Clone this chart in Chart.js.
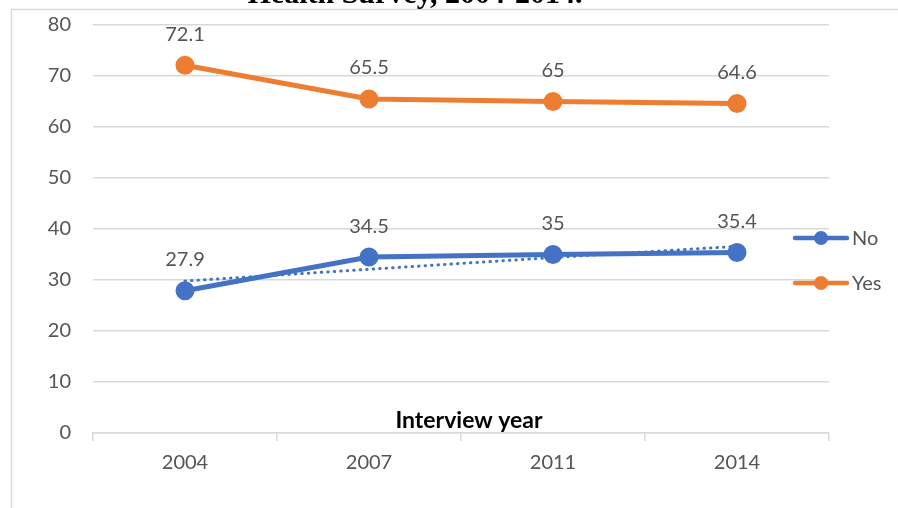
<!DOCTYPE html>
<html>
<head>
<meta charset="utf-8">
<script src="https://cdn.jsdelivr.net/npm/chart.js@4"></script>
<style>
  body { margin: 0; background: #fff; }
  #wrap { width: 898px; height: 508px; }
</style>
</head>
<body>
<div id="wrap"><canvas id="grafica" width="898" height="508"></canvas></div>
<script>
// datos
const years = ["2004", "2007", "2011", "2014"];
const noValues = [27.9, 34.5, 35, 35.4];
const yesValues = [72.1, 65.5, 65, 64.6];
const noTrend = [29.8, 32.1, 34.4, 36.6];
const yTicks = [0, 10, 20, 30, 40, 50, 60, 70, 80];

const AZUL = "#4472C4";
const NARANJA = "#ED7D31";
const TEXTO = "#555555";
const REJILLA = "#D9D9D9";
const FUENTE = "Lato, 'Open Sans', sans-serif";

// marco, titulo cortado, etiquetas y leyenda
const extras = {
  id: "extras",
  beforeDraw(chart) {
    const ctx = chart.ctx;
    ctx.save();
    ctx.strokeStyle = REJILLA;
    ctx.lineWidth = 1.5;
    ctx.beginPath();
    ctx.moveTo(11.5, 508);
    ctx.lineTo(11.5, 9.5);
    ctx.lineTo(898, 9.5);
    ctx.stroke();

    ctx.fillStyle = "#000";
    ctx.font = "bold 30px 'Liberation Serif', serif";
    ctx.textAlign = "center";
    ctx.textBaseline = "alphabetic";
    ctx.fillText("Health Survey, 2004-2014.", 415, 3);
    ctx.restore();
  },
  afterDatasetsDraw(chart) {
    const ctx = chart.ctx;
    const area = chart.chartArea;
    ctx.save();
    ctx.fillStyle = TEXTO;
    ctx.font = `20px ${FUENTE}`;
    ctx.textAlign = "center";
    ctx.textBaseline = "middle";
    [0, 1].forEach(i => {
      const meta = chart.getDatasetMeta(i);
      meta.data.forEach((p, j) => {
        ctx.fillText(String(chart.data.datasets[i].data[j]), p.x, p.y - 31);
      });
    });

    // titulo del eje dentro del area
    ctx.fillStyle = "#000";
    ctx.font = `bold 23px ${FUENTE}`;
    ctx.fillText("Interview year", 469, area.bottom - 12);

    // leyenda
    const items = [["No", AZUL, 238], ["Yes", NARANJA, 283]];
    items.forEach(([txt, color, y]) => {
      ctx.strokeStyle = color;
      ctx.lineWidth = 4.5;
      ctx.lineCap = "round";
      ctx.beginPath();
      ctx.moveTo(795, y);
      ctx.lineTo(847, y);
      ctx.stroke();
      ctx.fillStyle = color;
      ctx.beginPath();
      ctx.arc(821, y, 7, 0, Math.PI * 2);
      ctx.fill();
      ctx.fillStyle = TEXTO;
      ctx.font = `20px ${FUENTE}`;
      ctx.textAlign = "left";
      ctx.fillText(txt, 852, y + 1);
    });
    ctx.restore();
  }
};

new Chart(document.getElementById("grafica"), {
  type: "line",
  data: {
    labels: years,
    datasets: [
      {
        label: "No",
        data: noValues,
        borderColor: AZUL,
        backgroundColor: AZUL,
        borderWidth: 5,
        pointRadius: 7,
        pointHoverRadius: 7,
        tension: 0
      },
      {
        label: "Yes",
        data: yesValues,
        borderColor: NARANJA,
        backgroundColor: NARANJA,
        borderWidth: 5,
        pointRadius: 7,
        pointHoverRadius: 7,
        tension: 0
      },
      {
        label: "Linear (No)",
        data: noTrend,
        borderColor: AZUL,
        borderWidth: 3,
        borderDash: [0.5, 6],
        borderCapStyle: "round",
        pointRadius: 0,
        tension: 0
      }
    ]
  },
  options: {
    responsive: false,
    animation: false,
    layout: { padding: { top: 25, right: 69, left: 0, bottom: 0 } },
    plugins: {
      legend: { display: false },
      tooltip: { enabled: false },
      title: { display: false }
    },
    scales: {
      x: {
        offset: true,
        afterFit: axis => {
          axis.height = 75;
          axis.paddingLeft = 0;
          axis.paddingRight = 0;
        },
        grid: {
          offset: true,
          drawOnChartArea: false,
          color: REJILLA,
          tickLength: 8,
          lineWidth: 1.5
        },
        border: { color: REJILLA, width: 1.5 },
        ticks: {
          color: TEXTO,
          font: { family: FUENTE, size: 20 },
          padding: 10
        }
      },
      y: {
        min: 0,
        max: 80,
        afterFit: axis => {
          axis.width = 93;
          axis.paddingTop = 0;
          axis.paddingBottom = 0;
        },
        afterBuildTicks: axis => { axis.ticks = yTicks.map(v => ({ value: v })); },
        grid: { color: REJILLA, lineWidth: 1.5, drawTicks: false },
        border: { display: false },
        ticks: {
          color: TEXTO,
          font: { family: FUENTE, size: 20 },
          padding: 22
        }
      }
    }
  },
  plugins: [extras]
});
</script>
</body>
</html>
